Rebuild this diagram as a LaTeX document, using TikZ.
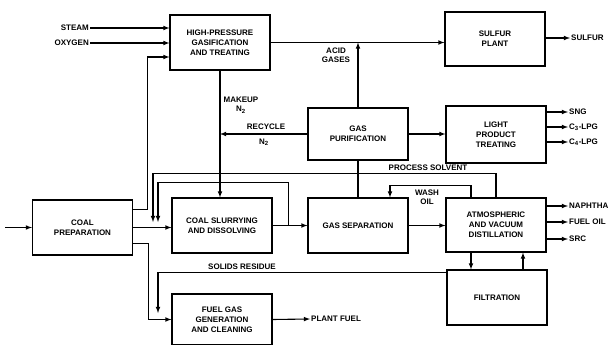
\documentclass[tikz,border=0pt]{standalone}
\usepackage{fontspec}
\setmainfont{Liberation Sans}
\usetikzlibrary{positioning}

\tikzset{
	unit/.style={draw, line width=1.1pt, minimum width=100pt, minimum height=55pt,
		align=center, inner sep=2pt, font=\fontsize{8}{10}\selectfont\bfseries},
	lbl/.style={inner sep=1pt, align=center, font=\fontsize{8}{9.5}\selectfont\bfseries},
	flow/.style={line width=1.1pt, -latex},
	pipe/.style={line width=1.1pt}
}

\begin{document}
\begin{tikzpicture}[x=1pt, y=-1pt]

	\useasboundingbox (0,0) rectangle (611,345);

	% Units
	\node[unit] (hpg) at (220,42.5) {HIGH-PRESSURE\\GASIFICATION\\AND TREATING};
	\node[unit, minimum height=54pt] (sulfur) at (495,39) {SULFUR\\PLANT};
	\node[unit, minimum height=52pt] (purif) at (358,134) {GAS\\PURIFICATION};
	\node[unit, minimum height=57pt] (light) at (496,134.5) {LIGHT\\PRODUCT\\TREATING};
	\node[unit] (prep) at (82.5,227.5) {COAL\\PREPARATION};
	\node[unit] (slurry) at (222,225.5) {COAL SLURRYING\\AND DISSOLVING};
	\node[unit] (gassep) at (358,225.5) {GAS SEPARATION};
	\node[unit, minimum height=54pt] (distil) at (496,225) {ATMOSPHERIC\\AND VACUUM\\DISTILLATION};
	\node[unit] (filt) at (497,297.5) {FILTRATION};
	\node[unit, minimum height=51pt] (fuelgas) at (222,319.5) {FUEL GAS\\GENERATION\\AND CLEANING};

	% Streams in and out
	\node[lbl, anchor=east] (steam) at (90,28) {STEAM};
	\node[lbl, anchor=east] (oxygen) at (90,43) {OXYGEN};
	\node[lbl, anchor=west] (sulfurout) at (570,38) {SULFUR};
	\node[lbl, anchor=west] (sng) at (568,112) {SNG};
	\node[lbl, anchor=west] (c3) at (568,127) {C\textsubscript{3}-LPG};
	\node[lbl, anchor=west] (c4) at (568,142) {C\textsubscript{4}-LPG};
	\node[lbl, anchor=west] (naphtha) at (568,206) {NAPHTHA};
	\node[lbl, anchor=west] (fueloil) at (568,222) {FUEL OIL};
	\node[lbl, anchor=west] (src) at (568,239) {SRC};
	\node[lbl, anchor=west] (plantfuel) at (310,319) {PLANT FUEL};
	\coordinate (feed) at (5,227.5);

	% Labels
	\node[lbl] at (336,55) {ACID\\GASES};
	\node[lbl] at (241,105) {MAKEUP\\N\textsubscript{2}};
	\node[lbl] at (266,127) {RECYCLE};
	\node[lbl] at (264,142) {N\textsubscript{2}};
	\node[lbl] at (428,168) {PROCESS SOLVENT};
	\node[lbl] at (427,197) {WASH\\OIL};
	\node[lbl] at (242,267) {SOLIDS RESIDUE};

	% Connectors
	\draw[flow] (steam.east) -- (steam.east -| hpg.west);
	\draw[flow] (oxygen.east) -- (oxygen.east -| hpg.west);
	\draw[flow] (hpg.east) -- (hpg.east -| sulfur.west);
	\draw[flow] (purif.north) -- (purif.north |- hpg.east);
	\draw[flow] (sulfur.east |- sulfurout) -- (sulfurout.west);
	\draw[flow] (light.east |- sng) -- (sng.west);
	\draw[flow] (light.east |- c3) -- (c3.west);
	\draw[flow] (light.east |- c4) -- (c4.west);
	\draw[flow] (purif.east) -- (purif.east -| light.west);
	\draw[flow] (hpg.south) -- (hpg.south |- slurry.north);
	\draw[flow] (purif.west) -- (purif.west -| hpg.south);
	\draw[pipe] (purif.south) -- (purif.south |- gassep.north);

	\draw[flow] (feed) -- (prep.west);
	\draw[flow] ([yshift=18pt]prep.east) -- ++(14,0) |- ([yshift=-14.5pt]hpg.west);
	\draw[flow] (prep.east) -- (prep.east -| slurry.west);
	\draw[flow] ([yshift=-16pt]prep.east) -- ++(15,0) |- (fuelgas.west);
	\draw[flow] (slurry.east) -- (slurry.east -| gassep.west);
	\draw[flow] (gassep.east) -- (gassep.east -| distil.west);

	% Recycle loops
	\coordinate (solv) at (153,222);
	\coordinate (rec) at (158,222);
	\coordinate (resid) at (158,313);
	\draw[flow] (distil.north) -- ++(0,-24) -| (solv);
	\draw[flow] ([xshift=16pt]slurry.east) -- ++(0,-43) -| (rec);
	\draw[flow] ([xshift=-25pt]distil.north) -- ++(0,-12) -| ([xshift=32pt]gassep.north);
	\draw[flow] ([yshift=-3pt]filt.north west) -| (resid);

	\draw[flow] (distil.east |- naphtha) -- (naphtha.west);
	\draw[flow] (distil.east |- fueloil) -- (fueloil.west);
	\draw[flow] (distil.east |- src) -- (src.west);
	\draw[flow] ([xshift=-25pt]distil.south) -- ([xshift=-25pt]distil.south |- filt.north);
	\draw[flow] ([xshift=26pt]filt.north) -- ([xshift=26pt]filt.north |- distil.south);
	\draw[flow] (fuelgas.east) -- (plantfuel.west);

\end{tikzpicture}
\end{document}
